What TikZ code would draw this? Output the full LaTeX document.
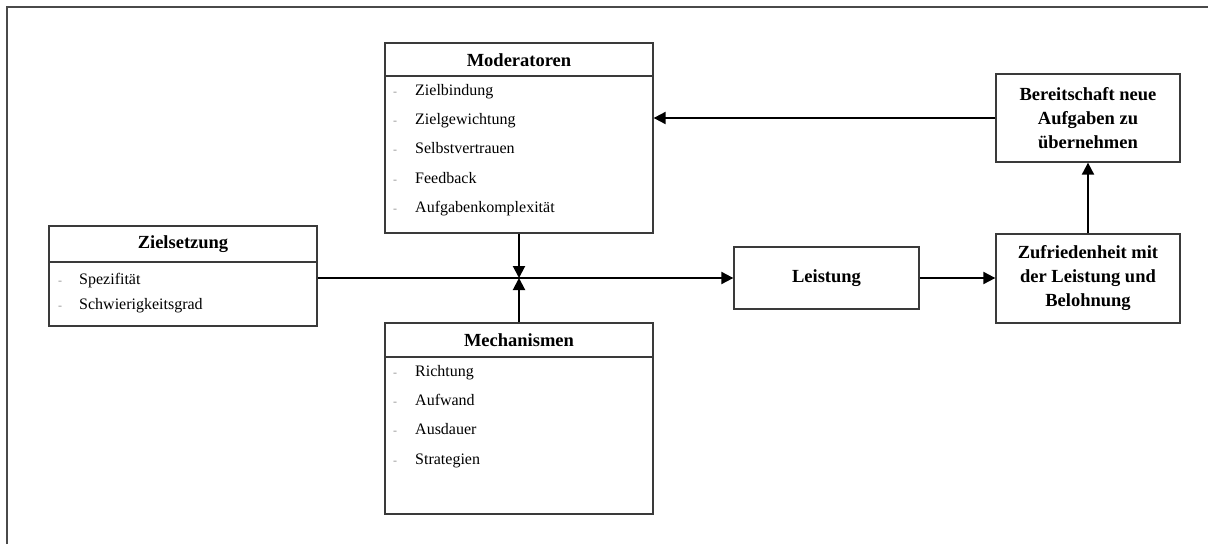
\documentclass[tikz,border=0pt]{standalone}
\usepackage{fontspec}
\setmainfont{Liberation Serif}
\usetikzlibrary{arrows.meta}
\definecolor{boxgray}{HTML}{3A3A3A}
\definecolor{framegray}{HTML}{4A4A4A}
\definecolor{dashgray}{HTML}{9A9A9A}
\begin{document}
\begin{tikzpicture}[x=1pt,y=-1pt,
  panel/.style={draw=boxgray,line width=1.3pt,fill=white,inner sep=0pt},
  head/.style={font=\fontsize{18.5}{22}\selectfont\bfseries,inner sep=0pt},
  boldtxt/.style={font=\fontsize{18.5}{24}\selectfont\bfseries,align=center,inner sep=0pt},
  item/.style={font=\fontsize{16}{19}\selectfont,anchor=mid west,inner sep=0pt},
  bullet/.style={font=\fontsize{12}{14}\selectfont,text=dashgray,anchor=mid west,inner sep=0pt},
  rule/.style={draw=boxgray,line width=1.3pt},
  arr/.style={line width=2pt,-{Triangle[length=12pt,width=12pt]}}]
\useasboundingbox (0,0) rectangle (1208,544);

% outer frame (top and left edges only)
\draw[framegray,line width=1.6pt] (7,544) -- (7,7) -- (1208,7);

% Moderatoren
\node[panel,minimum width=268pt,minimum height=190pt] (mod) at (519,138) {};
\node[head] (modh) at (519,60) {Moderatoren};
\draw[rule] (385,76) -- (653,76);
\foreach \t [count=\i] in {Zielbindung,Zielgewichtung,Selbstvertrauen,Feedback,Aufgabenkomplexität}{
  \node[bullet] (modd\i) at (393,64+29.2*\i) {-};
  \node[item] (modi\i) at (415,64+29.2*\i) {\t};
}

% Zielsetzung
\node[panel,minimum width=268pt,minimum height=100pt] (ziel) at (183,276) {};
\node[head] (zielh) at (183,244) {Zielsetzung};
\draw[rule] (49,262) -- (317,262);
\foreach \t [count=\i] in {Spezifität,Schwierigkeitsgrad}{
  \node[bullet] (zield\i) at (58,257+25*\i) {-};
  \node[item] (zieli\i) at (79,257+25*\i) {\t};
}

% Mechanismen
\node[panel,minimum width=268pt,minimum height=191pt] (mech) at (519,418.5) {};
\node[head] (mechh) at (519,340) {Mechanismen};
\draw[rule] (385,357) -- (653,357);
\foreach \t [count=\i] in {Richtung,Aufwand,Ausdauer,Strategien}{
  \node[bullet] (mechd\i) at (393,345+29.2*\i) {-};
  \node[item] (mechi\i) at (415,345+29.2*\i) {\t};
}

% Leistung
\node[panel,minimum width=185pt,minimum height=62pt,boldtxt] (leist) at (826.5,278) {Leistung};

% Zufriedenheit
\node[panel,minimum width=184pt,minimum height=89pt,boldtxt] (zuf) at (1088,278.5)
  {Zufriedenheit mit\\der Leistung und\\Belohnung};

% Bereitschaft
\node[panel,minimum width=184pt,minimum height=88pt,boldtxt] (ber) at (1088,118)
  {Bereitschaft neue\\Aufgaben zu\\übernehmen};

% connectors
\coordinate (j) at (519,278);
\draw[arr] (ziel.east |- j) -- (leist.west);
\draw[arr] (mod.south) -- (j);
\draw[arr] (mech.north) -- (j);
\draw[arr] (leist.east) -- (zuf.west |- leist.east);
\draw[arr] (zuf.north) -- (ber.south);
\draw[arr] (ber.west) -- (mod.east |- ber.west);
\end{tikzpicture}
\end{document}
